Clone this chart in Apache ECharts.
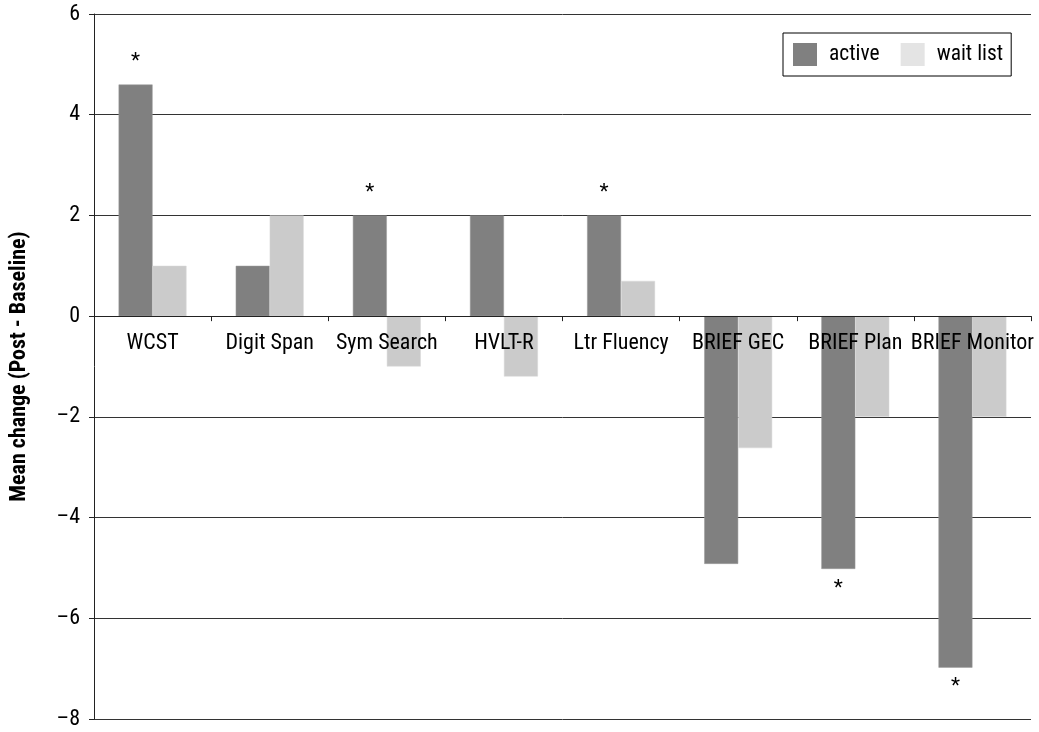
<!DOCTYPE html>
<html><head><meta charset="utf-8">
<script src="https://cdn.jsdelivr.net/npm/echarts@6/dist/echarts.min.js"></script>
<style>html,body{margin:0;padding:0;background:#fff}#c{width:1039px;height:732px}</style>
</head><body><div id="c"></div>
<script>
const categories = ['WCST','Digit Span','Sym Search','HVLT-R','Ltr Fluency','BRIEF GEC','BRIEF Plan','BRIEF Monitor'];
const activeValues = [4.6, 1.0, 2.0, 2.0, 2.0, -4.92, -5.02, -6.98];
const waitListValues = [1.0, 2.0, -1.0, -1.2, 0.7, -2.62, -2.0, -2.0];
const significant = [true, false, true, false, true, false, true, true];
const seriesNames = ['active', 'wait list'];
const yTicks = [-8, -6, -4, -2, 0, 2, 4, 6];
const yMin = -8, yMax = 6;

const FONT = '"Liberation Sans Narrow", "Roboto Condensed", "DejaVu Sans Condensed", sans-serif';
const W = 1039, H = 732;
const gridTop = 14, gridBottom = 13;
const plotH = H - gridTop - gridBottom;
const zeroOffset = plotH * (0 - yMin) / (yMax - yMin);

const chart = echarts.init(document.getElementById('c'), null, {renderer: 'canvas'});

const activeData = activeValues.map((v, i) => significant[i] ? {
  value: v,
  label: {show: true, formatter: '*', position: v >= 0 ? 'top' : 'bottom', distance: v >= 0 ? 12 : 9,
          color: '#000', fontSize: 21, fontFamily: FONT}
} : v);

chart.setOption({
  animation: false,
  textStyle: {fontFamily: FONT},
  grid: {left: 94, right: 8, top: gridTop, bottom: gridBottom, containLabel: false, outerBoundsMode: 'none'},
  legend: {
    data: [
      {name: seriesNames[0], icon: 'rect', itemStyle: {color: '#808080', borderWidth: 0}},
      {name: seriesNames[1], icon: 'rect', itemStyle: {color: '#e4e4e4', borderWidth: 0}}
    ],
    left: 783, top: 33, orient: 'horizontal',
    itemWidth: 24, itemHeight: 23, itemGap: 21,
    borderColor: '#000', borderWidth: 1, padding: [10, 8, 10, 10],
    textStyle: {fontSize: 21.5, color: '#000', fontFamily: FONT, padding: [0, 0, 0, 7]}
  },
  xAxis: {
    type: 'category', data: categories, z: 10, position: 'bottom', offset: -zeroOffset,
    axisLine: {onZero: false, show: true, lineStyle: {color: '#222', width: 1}},
    axisTick: {show: true, inside: false, length: 5, lineStyle: {color: '#222'}},
    axisLabel: {fontSize: 22, color: '#000', margin: 16, interval: 0, fontFamily: FONT, hideOverlap: false}
  },
  yAxis: {
    type: 'value', min: yMin, max: yMax, interval: 2,
    name: 'Mean change (Post - Baseline)', nameLocation: 'middle', nameGap: 64,
    nameTextStyle: {fontSize: 22, fontWeight: 'bold', color: '#000', fontFamily: FONT},
    axisLine: {show: true, lineStyle: {color: '#222', width: 1}},
    axisTick: {show: true, length: 5, lineStyle: {color: '#222'}},
    splitLine: {show: true, lineStyle: {color: '#333', width: 1}},
    axisLabel: {fontSize: 22, color: '#000', margin: 14, fontFamily: FONT,
      formatter: v => yTicks.includes(v) ? String(v).replace('-', '\u2013') : ''}
  },
  series: [
    {name: seriesNames[0], type: 'bar', data: activeData, barGap: '0%', barCategoryGap: '42%',
     itemStyle: {color: '#808080', borderColor: '#9a9a9a', borderWidth: 0.5}},
    {name: seriesNames[1], type: 'bar', data: waitListValues, barGap: '0%', barCategoryGap: '42%',
     itemStyle: {color: '#cbcbcb', borderColor: '#d8d8d8', borderWidth: 0.5}}
  ]
});
</script></body></html>
